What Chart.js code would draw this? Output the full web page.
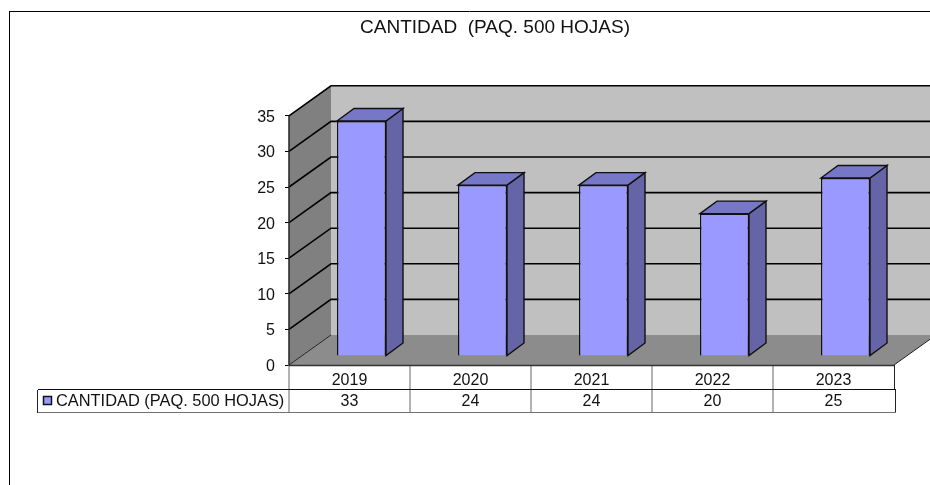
<!DOCTYPE html>
<html>
<head>
<meta charset="utf-8">
<title>CANTIDAD (PAQ. 500 HOJAS)</title>
<script src="https://cdn.jsdelivr.net/npm/chart.js@4/dist/chart.umd.min.js"></script>
<style>
    html, body { margin: 0; padding: 0; background: #fff; }
    canvas { display: block; }
</style>
</head>
<body>
<canvas id="myChart" width="930" height="485"></canvas>
<script>
var categories = ['2019', '2020', '2021', '2022', '2023'];
var cantidad = [33, 24, 24, 20, 25];
var seriesName = 'CANTIDAD (PAQ. 500 HOJAS)';
var chartTitle = 'CANTIDAD  (PAQ. 500 HOJAS)';

var FONT = '"Liberation Sans", Arial, sans-serif';
var FONT_SIZE = 16;

// depth of the fake 3D box and of the bars inside it
var WALL_DX = 42, WALL_DY = -30;
var BAR_DX = 12, BAR_DY = -9;
var SIDE_DX = 17, SIDE_DY = -12.5;

function poly(ctx, pts, fill, stroke, lw) {
    ctx.beginPath();
    ctx.moveTo(pts[0][0], pts[0][1]);
    for (var i = 1; i < pts.length; ++i) {
        ctx.lineTo(pts[i][0], pts[i][1]);
    }
    ctx.closePath();
    if (fill) {
        ctx.fillStyle = fill;
        ctx.fill();
    }
    if (stroke) {
        ctx.strokeStyle = stroke;
        ctx.lineWidth = lw || 1;
        ctx.stroke();
    }
}

function line(ctx, x1, y1, x2, y2, color, lw) {
    ctx.beginPath();
    ctx.moveTo(x1, y1);
    ctx.lineTo(x2, y2);
    ctx.strokeStyle = color;
    ctx.lineWidth = lw;
    ctx.stroke();
}

var box3d = {
    id: 'box3d',

    beforeDatasetsDraw: function(chart) {
        var ctx = chart.ctx;
        var area = chart.chartArea;
        var y = chart.scales.y;
        var l = area.left, r = area.right, t = area.top, b = area.bottom;

        ctx.save();
        // back wall, side wall, floor
        poly(ctx, [[l + WALL_DX, t + WALL_DY], [r + WALL_DX, t + WALL_DY], [r + WALL_DX, b + WALL_DY], [l + WALL_DX, b + WALL_DY]], '#c0c0c0');
        poly(ctx, [[l, t], [l + WALL_DX, t + WALL_DY], [l + WALL_DX, b + WALL_DY], [l, b]], '#808080');
        poly(ctx, [[l, b], [l + WALL_DX, b + WALL_DY], [r + WALL_DX, b + WALL_DY], [r, b]], '#8c8c8c');

        // gridlines run along the side wall and then across the back
        y.ticks.forEach(function(tick) {
            var py = y.getPixelForValue(tick.value);
            if (tick.value === 0) {
                return;
            }
            ctx.beginPath();
            ctx.moveTo(l, py);
            ctx.lineTo(l + WALL_DX, py + WALL_DY);
            ctx.lineTo(r + WALL_DX, py + WALL_DY);
            ctx.strokeStyle = '#000';
            ctx.lineWidth = 1.6;
            ctx.stroke();
        });
        line(ctx, l, t, l, b, '#222', 1.5);
        line(ctx, l, b, l + WALL_DX, b + WALL_DY, '#222', 1);
        line(ctx, r, b, r + WALL_DX, b + WALL_DY, '#222', 1);

        // bar sides and tops from the bar elements
        chart.getDatasetMeta(0).data.forEach(function(bar) {
            var x1 = bar.x - bar.width / 2 + BAR_DX;
            var x2 = bar.x + bar.width / 2 + BAR_DX;
            var top = bar.y + BAR_DY;
            var base = bar.base + BAR_DY;
            poly(ctx, [[x2, top], [x2 + SIDE_DX, top + SIDE_DY], [x2 + SIDE_DX, base + SIDE_DY], [x2, base]], '#6464a6', '#111', 1.4);
            poly(ctx, [[x1, top], [x1 + SIDE_DX, top + SIDE_DY], [x2 + SIDE_DX, top + SIDE_DY], [x2, top]], '#7777c7', '#111', 1.4);
        });
        ctx.restore();
    },

    // front faces are the real bars, pushed back into the box
    beforeDatasetDraw: function(chart) {
        chart.ctx.save();
        chart.ctx.translate(BAR_DX, BAR_DY);
    },

    afterDatasetDraw: function(chart) {
        chart.ctx.restore();
    },

    afterDraw: function(chart) {
        var ctx = chart.ctx;
        var x = chart.scales.x;
        var area = chart.chartArea;
        var rowTop = area.bottom;
        var rowMid = 390;
        var rowEnd = 413;
        var tableLeft = 38;
        var cellWidth = (area.right - area.left) / categories.length;
        var i;

        ctx.save();

        // outer frame of the chart sheet
        line(ctx, 9.5, 485, 9.5, 11.5, '#000', 1);
        line(ctx, 9, 11.5, 930, 11.5, '#000', 1);

        // data table
        for (i = 1; i < categories.length; ++i) {
            var cx = area.left + i * cellWidth;
            line(ctx, cx, rowTop, cx, rowEnd, '#808080', 1.2);
        }
        line(ctx, area.left, rowTop, area.left, rowEnd, '#808080', 1.2);
        line(ctx, area.right + 0.5, rowTop, area.right + 0.5, rowMid, '#222', 1);
        line(ctx, area.right + 1.5, rowMid, area.right + 1.5, rowEnd, '#222', 1);
        line(ctx, area.left, rowTop + 0.5, area.right, rowTop + 0.5, '#333', 1.5);
        line(ctx, tableLeft, rowMid - 0.5, area.right + 2, rowMid - 0.5, '#111', 1);
        line(ctx, tableLeft, rowEnd - 0.5, area.right + 2, rowEnd - 0.5, '#707070', 1.2);
        line(ctx, tableLeft - 0.5, rowMid, tableLeft - 0.5, rowEnd, '#222', 1);

        // legend key and series name
        ctx.fillStyle = '#9999ff';
        ctx.strokeStyle = '#111';
        ctx.lineWidth = 1.5;
        ctx.fillRect(43.5, 396.5, 8, 8);
        ctx.strokeRect(43.5, 396.5, 8, 8);

        ctx.fillStyle = '#111';
        ctx.textBaseline = 'middle';
        ctx.textAlign = 'left';
        ctx.font = '16.4px ' + FONT;
        ctx.fillText(seriesName, 56, 401);

        ctx.font = FONT_SIZE + 'px ' + FONT;
        ctx.textAlign = 'center';
        cantidad.forEach(function(v, idx) {
            ctx.fillText(String(v), x.getPixelForValue(idx), 402);
        });
        ctx.restore();
    }
};

var ctx = document.getElementById('myChart');
var myChart = new Chart(ctx, {
    type: 'bar',
    data: {
        labels: categories,
        datasets: [{
            label: seriesName,
            data: cantidad,
            backgroundColor: '#9999ff',
            borderColor: '#111',
            borderWidth: 1.4,
            barPercentage: 0.405,
            categoryPercentage: 1,
            clip: false
        }]
    },
    options: {
        responsive: false,
        animation: false,
        layout: { padding: { left: 96, right: 36, top: 0, bottom: 90 } },
        plugins: {
            legend: { display: false },
            tooltip: { enabled: false },
            title: {
                display: true,
                text: chartTitle,
                color: '#111',
                font: { family: FONT, size: 19, weight: 'normal' },
                padding: { top: 16, bottom: 77 }
            }
        },
        scales: {
            x: {
                grid: { display: false },
                border: { display: false },
                ticks: { color: '#111', font: { family: FONT, size: FONT_SIZE }, padding: -2, maxRotation: 0 },
                afterFit: function(scale) { scale.height = 30; }
            },
            y: {
                min: 0,
                max: 35,
                grid: { drawOnChartArea: false, color: '#000', tickLength: 4 },
                border: { display: false },
                ticks: { stepSize: 5, color: '#111', font: { family: FONT, size: FONT_SIZE }, padding: 10, labelOffset: 1.5 },
                afterFit: function(scale) { scale.width = 193; }
            }
        }
    },
    plugins: [box3d]
});
</script>
</body>
</html>
